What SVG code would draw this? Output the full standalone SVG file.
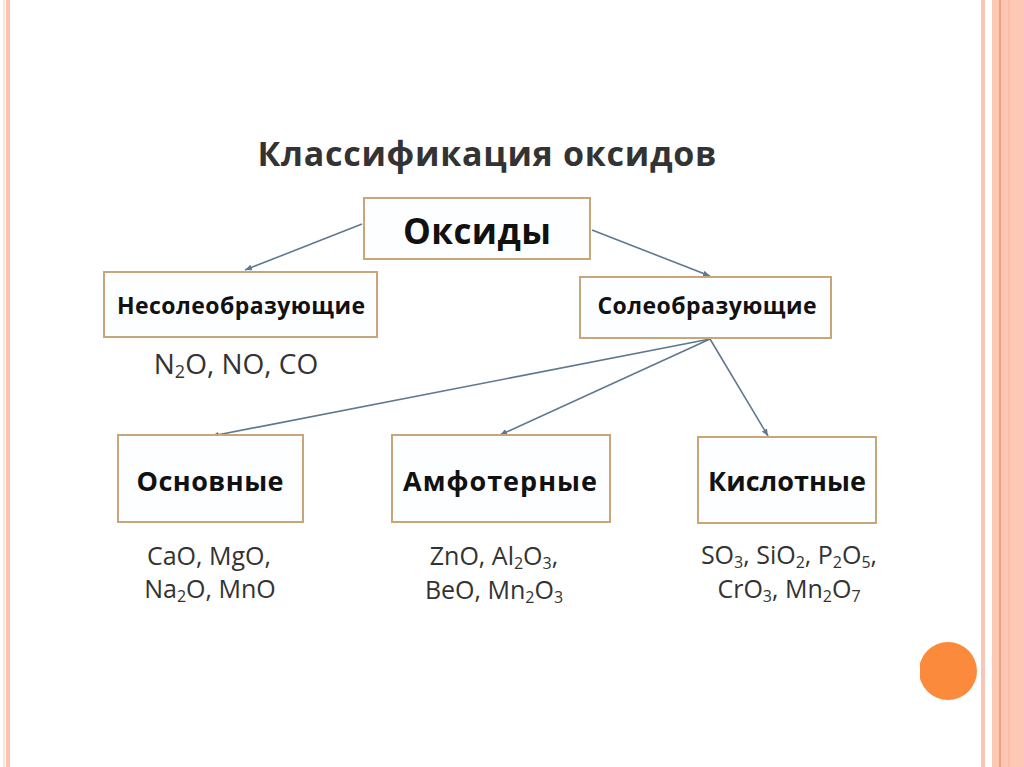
<svg xmlns="http://www.w3.org/2000/svg" width="1024" height="767" viewBox="0 0 1024 767">
<style>
.box{fill:#fdfeff;stroke:#c9a57a;stroke-width:2}
.lbl{font-family:"Open Sans","Liberation Sans",sans-serif;font-weight:bold;fill:#111;text-anchor:middle}
.f{font-family:"Open Sans","Liberation Sans",sans-serif;fill:#333;font-size:25px;text-anchor:middle}
.s{font-size:16px}
.con{stroke:#5f7890;stroke-width:1.6;fill:none;marker-end:url(#ah)}
</style>
<defs>
<marker id="ah" markerWidth="8" markerHeight="8" refX="7" refY="4" orient="auto" markerUnits="userSpaceOnUse">
<path d="M0,1 L7,4 L0,7 Z" fill="#5f7890"/>
</marker>
<clipPath id="cc"><rect x="920" y="630" width="70" height="90"/></clipPath>
</defs>
<rect width="1024" height="767" fill="#ffffff"/>
<!-- decorative frame -->
<rect x="3" y="0" width="2" height="767" fill="#fde4da"/>
<rect x="6" y="0" width="4" height="767" fill="#fcc3ae"/>
<rect x="981" y="0" width="4" height="767" fill="#f8c5b6"/>
<rect x="992" y="0" width="32" height="767" fill="#fdc9b4"/>
<rect x="999" y="0" width="2" height="767" fill="#f2a07c"/>
<rect x="1008" y="0" width="2" height="767" fill="#fbbda6"/>
<circle cx="948" cy="671" r="29" fill="#fb8a3c" clip-path="url(#cc)"/>

<text x="487" y="166" font-family="'Open Sans','Liberation Sans',sans-serif" font-weight="bold" font-size="34" fill="#333" text-anchor="middle" textLength="459">Классификация оксидов</text>

<g id="connectors">
<line class="con" x1="362" y1="224" x2="245" y2="270"/>
<line class="con" x1="592" y1="230" x2="710" y2="276"/>
<line class="con" x1="710" y1="339" x2="212" y2="436"/>
<line class="con" x1="710" y1="339" x2="500" y2="435"/>
<line class="con" x1="710" y1="339" x2="768" y2="436"/>
</g>

<g id="oksidy">
<rect class="box" x="364" y="198" width="226" height="61"/>
<text class="lbl" x="477" y="244" font-size="35" textLength="148">Оксиды</text>
</g>
<g id="nesoleobr">
<rect class="box" x="104" y="272" width="273" height="65"/>
<text class="lbl" x="241" y="314" font-size="23" textLength="248">Несолеобразующие</text>
<text class="f" x="236" y="374" style="font-size:28px">N<tspan style="font-size:18px" dy="4">2</tspan><tspan dy="-4">O, NO, CO</tspan></text>
</g>
<g id="soleobr">
<rect class="box" x="580" y="277" width="251" height="61"/>
<text class="lbl" x="707" y="314" font-size="23" textLength="219">Солеобразующие</text>
</g>
<g id="osnovnye">
<rect class="box" x="118" y="435" width="185" height="87"/>
<text class="lbl" x="210" y="491" font-size="27" textLength="147">Основные</text>
<text class="f" x="209" y="565">CaO, MgO,</text>
<text class="f" x="210" y="598">Na<tspan class="s" dy="4">2</tspan><tspan dy="-4">O, MnO</tspan></text>
</g>
<g id="amfoternye">
<rect class="box" x="392" y="435" width="218" height="87"/>
<text class="lbl" x="500" y="491" font-size="27" textLength="194">Амфотерные</text>
<text class="f" x="494" y="565">ZnO, Al<tspan class="s" dy="4">2</tspan><tspan dy="-4">O</tspan><tspan class="s" dy="4">3</tspan><tspan dy="-4">,</tspan></text>
<text class="f" x="494" y="599">BeO, Mn<tspan class="s" dy="4">2</tspan><tspan dy="-4">O</tspan><tspan class="s" dy="4">3</tspan></text>
</g>
<g id="kislotnye">
<rect class="box" x="698" y="437" width="178" height="86"/>
<text class="lbl" x="787" y="491" font-size="27" textLength="158">Кислотные</text>
<text class="f" x="789" y="564">SO<tspan class="s" dy="4">3</tspan><tspan dy="-4">, SiO</tspan><tspan class="s" dy="4">2</tspan><tspan dy="-4">, P</tspan><tspan class="s" dy="4">2</tspan><tspan dy="-4">O</tspan><tspan class="s" dy="4">5</tspan><tspan dy="-4">,</tspan></text>
<text class="f" x="789" y="598">CrO<tspan class="s" dy="4">3</tspan><tspan dy="-4">, Mn</tspan><tspan class="s" dy="4">2</tspan><tspan dy="-4">O</tspan><tspan class="s" dy="4">7</tspan></text>
</g>
</svg>
